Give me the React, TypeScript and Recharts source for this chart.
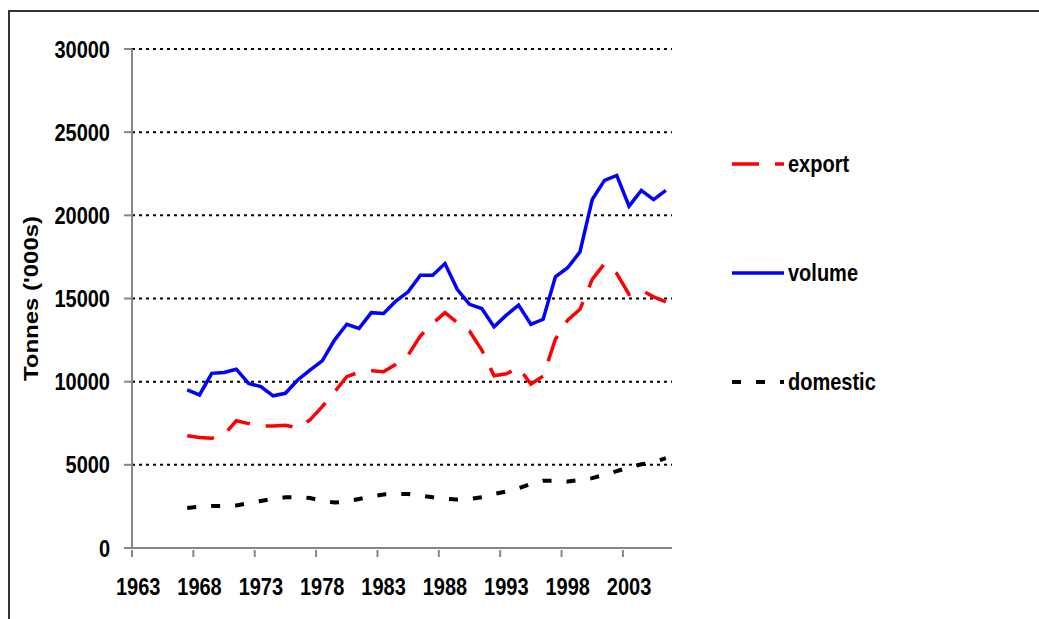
import { LineChart, Line, XAxis, YAxis, CartesianGrid, Legend } from "recharts";

const years = [
  1967, 1968, 1969, 1970, 1971, 1972, 1973, 1974, 1975, 1976,
  1977, 1978, 1979, 1980, 1981, 1982, 1983, 1984, 1985, 1986,
  1987, 1988, 1989, 1990, 1991, 1992, 1993, 1994, 1995, 1996,
  1997, 1998, 1999, 2000, 2001, 2002, 2003, 2004, 2005, 2006,
];

const exportVals = [
  6750, 6650, 6600, 6800, 7650, 7480, 7350, 7330, 7380, 7220,
  7700, 8500, 9380, 10300, 10570, 10650, 10600, 11050, 11600, 12750,
  13500, 14150, 13560, 13050, 11900, 10350, 10470, 10850, 9850, 10330,
  12550, 13700, 14350, 16150, 17100, 16500, 15250, 15500, 15100, 14800,
];

const volumeVals = [
  9500, 9200, 10500, 10550, 10750, 9900, 9700, 9150, 9300, 10100,
  10700, 11250, 12500, 13450, 13200, 14150, 14100, 14850, 15400, 16400,
  16400, 17100, 15550, 14650, 14400, 13300, 14000, 14600, 13450, 13750,
  16300, 16850, 17800, 20950, 22100, 22400, 20550, 21500, 20950, 21500,
];

const domesticVals = [
  2400, 2480, 2520, 2530, 2560, 2700, 2830, 2950, 3050, 3050,
  3000, 2850, 2730, 2800, 2950, 3100, 3220, 3250, 3250, 3150,
  3050, 2950, 2920, 2950, 3050, 3250, 3400, 3600, 3850, 4050,
  4050, 4000, 4100, 4200, 4400, 4620, 4850, 5030, 5150, 5400,
];

// year labels every 5 categories; tick marks sit between categories
const xLabelYears = [1963, 1968, 1973, 1978, 1983, 1988, 1993, 1998, 2003];
const yTicks = [0, 5000, 10000, 15000, 20000, 25000, 30000];
const seriesOrder = ["export", "volume", "domestic"];

const data = years.map((year, i) => ({
  year,
  export: exportVals[i],
  volume: volumeVals[i],
  domestic: domesticVals[i],
}));

const xTicks = xLabelYears.flatMap((y) => [y - 0.5, y]);

const FONT = '"Liberation Sans", Arial, sans-serif';
const AXIS = "#868686";

const XTick = (props: any) => {
  const { x, y, payload } = props;
  const v = payload.value;
  if (!Number.isInteger(v)) {
    return <line x1={x} y1={y} x2={x} y2={y + 7} stroke={AXIS} strokeWidth={2} />;
  }
  return (
    <text
      transform={`translate(${x},${y + 36}) scale(1,1.2)`}
      textAnchor="middle"
      dy="0.36em"
      fontFamily={FONT}
      fontWeight="bold"
      fontSize={20}
      fill="#000"
    >
      {v}
    </text>
  );
};

const YTick = (props: any) => {
  const { x, y, payload } = props;
  return (
    <text
      transform={`translate(${x},${y}) scale(1,1.2)`}
      textAnchor="end"
      dy="0.36em"
      fontFamily={FONT}
      fontWeight="bold"
      fontSize={20}
      fill="#000"
    >
      {payload.value}
    </text>
  );
};

const YLabel = (props: any) => {
  const { viewBox } = props;
  const cx = viewBox.x - 21;
  const cy = viewBox.y + viewBox.height / 2;
  return (
    <text
      transform={`translate(${cx},${cy}) rotate(-90) scale(1.2,1)`}
      textAnchor="middle"
      dy="0.36em"
      fontFamily={FONT}
      fontWeight="bold"
      fontSize={20}
      fill="#000"
    >
      Tonnes ('000s)
    </text>
  );
};

const LegendBox = (props: any) => {
  const items = [...(props.payload || [])].sort(
    (a: any, b: any) => seriesOrder.indexOf(a.value) - seriesOrder.indexOf(b.value)
  );
  return (
    <div>
      {items.map((entry: any) => (
        <div key={entry.value} style={{ display: "flex", alignItems: "center", height: 109 }}>
          <svg width={52} height={10} style={{ marginRight: 4 }}>
            <line
              x1={0}
              y1={5}
              x2={52}
              y2={5}
              stroke={entry.color}
              strokeWidth={entry.payload?.strokeWidth ?? 3}
              strokeDasharray={entry.payload?.strokeDasharray}
            />
          </svg>
          <span
            style={{
              display: "inline-block",
              transform: "scaleY(1.2)",
              fontFamily: FONT,
              fontWeight: "bold",
              fontSize: 20,
              color: "#000",
              lineHeight: "20px",
            }}
          >
            {entry.value}
          </span>
        </div>
      ))}
    </div>
  );
};

export default function App() {
  return (
    <div
      style={{
        position: "absolute",
        left: 8,
        top: 10,
        width: 1029,
        height: 607,
        borderLeft: "2px solid #333",
        borderTop: "2px solid #333",
        background: "#fff",
      }}
    >
      <LineChart
        width={1027}
        height={607}
        data={data}
        margin={{ top: 37, right: 365, left: 42, bottom: 11 }}
      >
        <CartesianGrid
          vertical={false}
          horizontalValues={yTicks.filter((t) => t > 0)}
          stroke="#000"
          strokeWidth={2}
          strokeDasharray="3 4"
        />
        <XAxis
          dataKey="year"
          type="number"
          domain={[1962.5, 2006.5]}
          ticks={xTicks}
          interval={0}
          tickSize={0}
          tickLine={false}
          tick={<XTick />}
          axisLine={{ stroke: AXIS, strokeWidth: 2 }}
          height={60}
        />
        <YAxis
          type="number"
          domain={[0, 30000]}
          ticks={yTicks}
          interval={0}
          width={80}
          tickSize={8}
          tickMargin={14}
          tickLine={{ stroke: AXIS, strokeWidth: 2 }}
          axisLine={{ stroke: AXIS, strokeWidth: 2 }}
          tick={<YTick />}
          label={<YLabel />}
        />
        <Legend
          layout="vertical"
          align="center"
          verticalAlign="middle"
          content={<LegendBox />}
          wrapperStyle={{ left: 722, top: 97, width: 300 }}
        />
        <Line
          type="linear"
          dataKey="export"
          name="export"
          stroke="#ff0000"
          strokeWidth={3.5}
          strokeDasharray="27 16"
          dot={false}
          isAnimationActive={false}
        />
        <Line
          type="linear"
          dataKey="volume"
          name="volume"
          stroke="#0000ff"
          strokeWidth={3.5}
          dot={false}
          isAnimationActive={false}
        />
        <Line
          type="linear"
          dataKey="domestic"
          name="domestic"
          stroke="#000000"
          strokeWidth={4}
          strokeDasharray="9 15"
          dot={false}
          isAnimationActive={false}
        />
      </LineChart>
    </div>
  );
}
